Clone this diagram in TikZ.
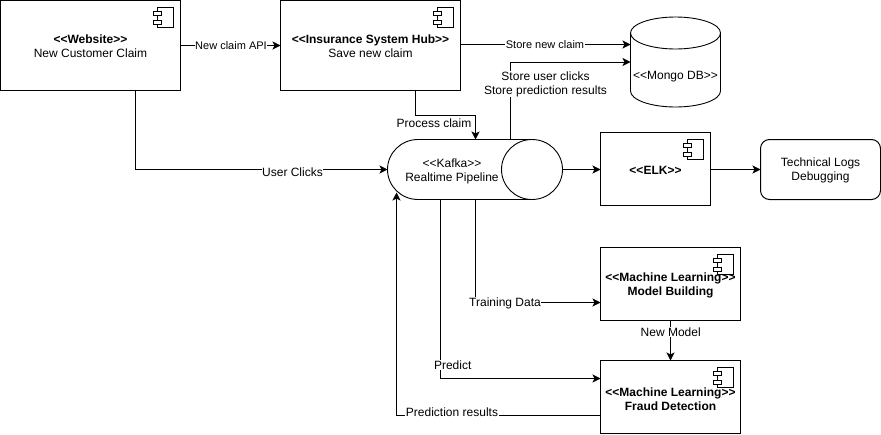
\documentclass[tikz,border=0pt]{standalone}
\usepackage{fontspec}
\setmainfont{Liberation Sans}
\usetikzlibrary{arrows.meta,calc}
\tikzset{
  every node/.style={font=\fontsize{12}{14}\selectfont, align=center, inner sep=0pt, outer sep=0pt},
  boxnode/.style={draw=black, line width=1pt, fill=white, minimum width=#1},
  boxnode/.default=180pt,
  conn/.style={draw=black, line width=1pt, -{Stealth[length=8pt,width=8pt,inset=2pt]}},
  lbl/.style={fill=white, inner xsep=0.5pt, inner ysep=0.5pt},
  smalllbl/.style={lbl, font=\fontsize{11}{13}\selectfont},
  iconpart/.style={draw=black, line width=1pt, fill=white},
  shapeline/.style={draw=black, line width=0.9pt},
}
\newcommand{\compicon}[1]{%
  \draw[iconpart] ($(#1.north east)+(-23.5,7)$) rectangle ($(#1.north east)+(-7,27)$);
  \draw[iconpart] ($(#1.north east)+(-27,10.5)$) rectangle ($(#1.north east)+(-19,14.5)$);
  \draw[iconpart] ($(#1.north east)+(-27,19.5)$) rectangle ($(#1.north east)+(-19,23.5)$);
}
\begin{document}
\begin{tikzpicture}[x=1pt,y=-1pt]
\useasboundingbox (0,0) rectangle (881,434);
% boxes
\node[boxnode, minimum height=89.5pt] (web) at (90.5,45.25) {};
\node[boxnode, minimum height=89.5pt] (hub) at (370.5,45.25) {};
\node[boxnode=110pt, minimum height=72.5pt] (elk) at (655.5,168.75) {};
\node[boxnode=140pt, minimum height=73pt] (mlb) at (670.5,284) {};
\node[boxnode=140pt, minimum height=73pt] (mlf) at (670.5,397) {};
\node[draw=black, line width=1pt, rounded corners=9pt, minimum width=120pt, minimum height=60pt] (logs) at (820.5,169.5) {};
\node (logstext) at (820.5,170.5) {Technical Logs\\Debugging};
\compicon{web}
\compicon{hub}
\compicon{mlb}
\compicon{mlf}
\compicon{elk}
% box texts
\node (webtext) at (90.5,46.5) {\textbf{<{}<Website>{}>}\\New Customer Claim};
\node (hubtext) at (370.5,46.5) {\textbf{<{}<Insurance System Hub>{}>}\\Save new claim};
\node (elktext) at (655.5,170.5) {\textbf{<{}<ELK>{}>}};
\node (mlbtext) at (670.5,285.75) {\textbf{<{}<Machine Learning>{}>}\\\textbf{Model Building}};
\node (mlftext) at (670.5,398.75) {\textbf{<{}<Machine Learning>{}>}\\\textbf{Fraud Detection}};
% kafka
\node[minimum width=175pt, minimum height=60pt] (kafka) at (475,169.5) {};
\draw[shapeline] (418,139.5) arc[start angle=90, end angle=270, x radius=30.5pt, y radius=30pt] -- (532,199.5) (532,139.5) -- (418,139.5);
\draw[shapeline] (532,169.5) ellipse[x radius=30.5pt, y radius=30pt];
\node (kafkatext) at (452,171) {<{}<Kafka>{}>\\Realtime Pipeline};
% mongo
\node[minimum width=90pt, minimum height=90pt] (mongo) at (675.5,62) {};
\draw[shapeline] (630.5,33) arc[start angle=180, end angle=0, x radius=45pt, y radius=16pt]
  -- (720.5,91) arc[start angle=0, end angle=-180, x radius=45pt, y radius=16pt] -- cycle;
\draw[shapeline] (630.5,33) arc[start angle=180, end angle=360, x radius=45pt, y radius=16pt];
\node (mongotext) at (675.5,76.5) {<{}<Mongo DB>{}>};
% connectors
\coordinate (kafkaret) at (396.5,192.5);
\draw[conn] (web.east |- 0,45.5) -- (hub.west |- 0,45.5);
\draw[conn] (135.5,90) -- (135.5,169.5) -- (kafka.west);
\draw[conn] (415.5,90) -- (415.5,115.5) -- (475.5,115.5) -- (475.5,139.5);
\draw[conn] (hub.east |- 0,44.5) -- (mongo.west |- 0,44.5);
\draw[conn] (510.5,139.5) -- (510.5,62) -- (mongo.west |- 0,62);
\draw[conn] (kafka.east) -- (elk.west |- kafka.east);
\draw[conn] (elk.east |- logs.west) -- (logs.west);
\draw[conn] (475.5,199.5) -- (475.5,302.5) -- (mlb.west |- 0,302.5);
\draw[conn] (440.5,199.5) -- (440.5,378.5) -- (mlf.west |- 0,378.5);
\draw[conn] (mlf.west |- 0,415.5) -- (396.5,415.5) -- (kafkaret);
\draw[conn] (mlb.south) -- (mlf.north);
% labels
\node[smalllbl] (l1) at (231,46) {New claim API};
\node[lbl] (l2) at (292.5,172) {User Clicks};
\node[lbl] (l3) at (434,123) {Process claim};
\node[smalllbl] (l4) at (545,45) {Store new claim};
\node[lbl] (l5) at (545.5,84) {Store user clicks\\Store prediction results};
\node[lbl] (l6) at (505,303) {Training Data};
\node[lbl] (l7) at (670.7,332) {New Model};
\node[lbl] (l8) at (452.7,365) {Predict};
\node[lbl] (l9) at (452,412) {Prediction results};
\end{tikzpicture}
\end{document}
